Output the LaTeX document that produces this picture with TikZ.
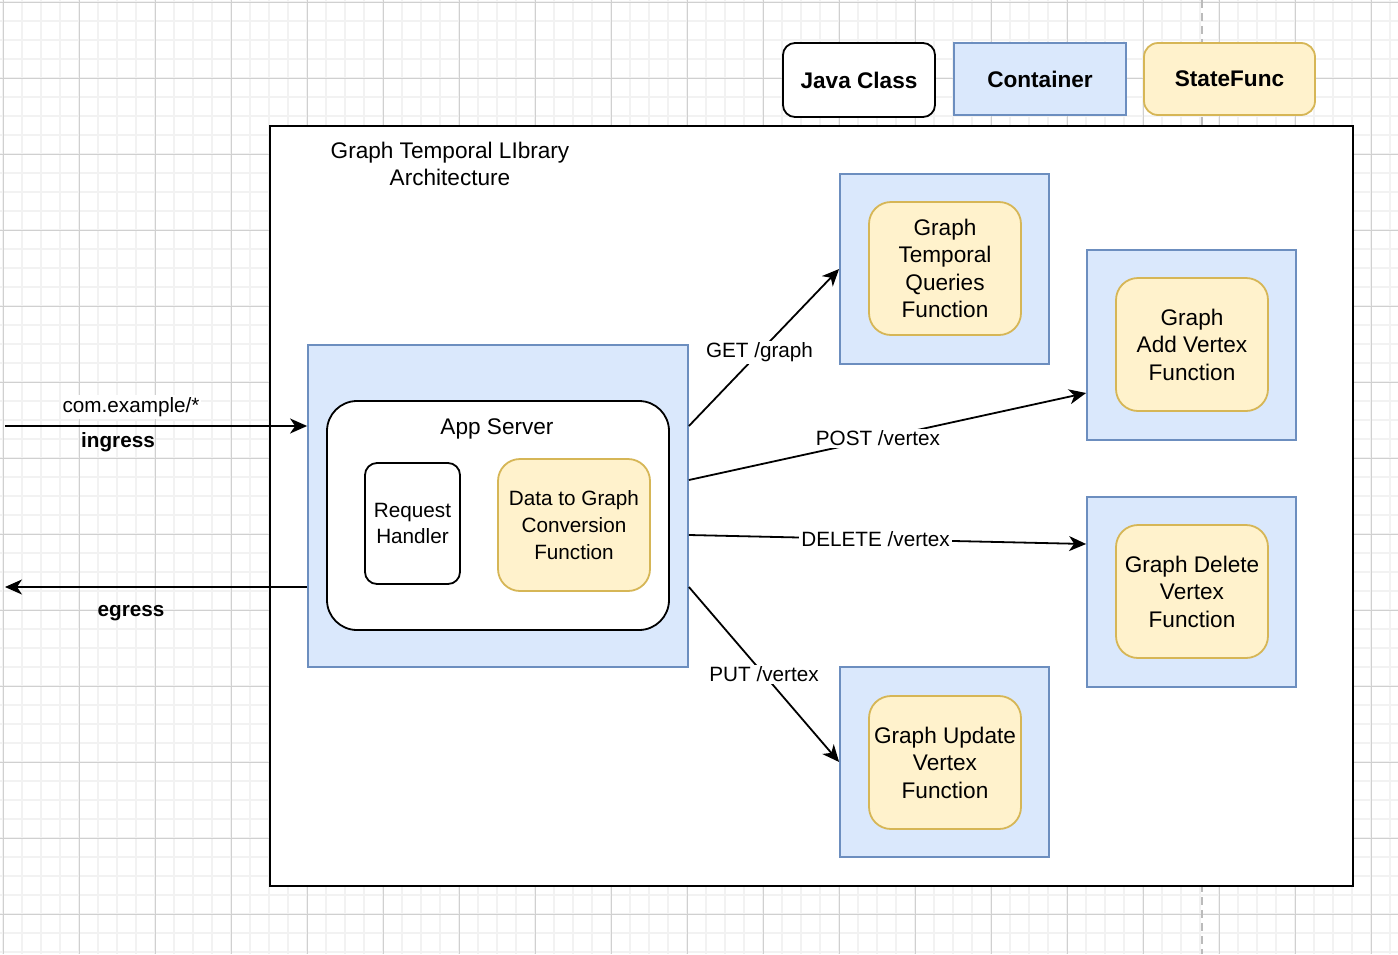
\documentclass[tikz,border=0pt]{standalone}
\usepackage{fontspec}
\setmainfont{Liberation Sans}
\usetikzlibrary{arrows.meta,fit,calc}
\definecolor{cfill}{HTML}{DAE8FC}
\definecolor{cdraw}{HTML}{6C8EBF}
\definecolor{yfill}{HTML}{FFF2CC}
\definecolor{ydraw}{HTML}{D6B656}
\definecolor{gmaj}{HTML}{D0D0D0}
\definecolor{gmin}{HTML}{F2F2F2}
\definecolor{gdash}{HTML}{BBBBBB}
\newcommand\szA{\fontsize{11.3pt}{13.75pt}\selectfont}
\newcommand\szB{\fontsize{10.35pt}{13.4pt}\selectfont}
\begin{document}
\begin{tikzpicture}[x=0.5pt,y=-0.5pt,
  box/.style={inner sep=0pt, line width=0.9pt, align=center},
  container/.style={box, fill=cfill, draw=cdraw},
  sfunc/.style={box, fill=yfill, draw=ydraw, rounded corners=11pt},
  jclass/.style={box, fill=white, draw=black, rounded corners=6pt},
  arr/.style={line width=0.9pt, -{Stealth[length=8.5pt,width=7.5pt,inset=2.5pt]}},
  elabel/.style={fill=white, inner sep=1pt, font=\szB},
  txt/.style={inner sep=0pt, align=center},
]
\useasboundingbox (0,0) rectangle (1398,954);
\fill[white] (0,0) rectangle (1398,954);
\begin{scope}
\clip (0,0) rectangle (1398,954);
\foreach \i in {0,...,74} {\draw[gmin, line width=1pt] ({-16+19*\i},0) -- ({-16+19*\i},954);}
\foreach \i in {0,...,51} {\draw[gmin, line width=1pt] (0,{-17+19*\i}) -- (1398,{-17+19*\i});}
\foreach \i in {0,...,18} {\draw[gmaj, line width=0.5pt] ({3+76*\i},0) -- ({3+76*\i},954);}
\foreach \i in {0,...,12} {\draw[gmaj, line width=0.5pt] (0,{2+76*\i}) -- (1398,{2+76*\i});}
\end{scope}
\draw[gdash, line width=1pt, dash pattern=on 4pt off 2.5pt] (1202,0) -- (1202,954);

% legend
\node[jclass, fit={(783,43)(935,117)}] (legjava) {};
\node[txt, font=\szA\bfseries] at (legjava.center) (legjavat) {Java Class};
\node[container, fit={(954,43)(1126,115)}] (legcont) {};
\node[txt, font=\szA\bfseries] at (legcont.center) (legcontt) {Container};
\node[box, fill=yfill, draw=ydraw, rounded corners=7pt, fit={(1144,43)(1315,115)}] (legsf) {};
\node[txt, font=\szA\bfseries] at (legsf.center) (legsft) {StateFunc};

% frame
\node[box, draw=black, fill=white, line width=1pt, fit={(270,126)(1353,886)}] (frame) {};
\node[txt, font=\szA] (title) at (450,164) {Graph Temporal LIbrary\\Architecture};

% app server
\node[container, fit={(308,345)(688,667)}] (appc) {};
\node[jclass, rounded corners=15pt, fit={(327,401)(669,630)}] (appbox) {};
\node[txt, font=\szA] (applbl) at (497,429) {App Server};
\node[jclass, fit={(365,463)(460,584)}] (req) {};
\node[txt, font=\szB] at (req.center) (reqt) {Request\\Handler};
\node[sfunc, fit={(498,459)(650,591)}] (d2g) {};
\node[txt, font=\szB] at (d2g.center) (d2gt) {Data to Graph\\Conversion\\Function};

% functions
\node[container, fit={(840,174)(1049,364)}] (c1) {};
\node[sfunc, fit={(869,202)(1021,335)}] (f1) {};
\node[txt, font=\szA] at (f1.center) (f1t) {Graph\\Temporal\\Queries\\Function};
\node[container, fit={(1087,250)(1296,440)}] (c2) {};
\node[sfunc, fit={(1116,278)(1268,411)}] (f2) {};
\node[txt, font=\szA] at (f2.center) (f2t) {Graph\\Add Vertex\\Function};
\node[container, fit={(1087,497)(1296,687)}] (c3) {};
\node[sfunc, fit={(1116,525)(1268,658)}] (f3) {};
\node[txt, font=\szA] at (f3.center) (f3t) {Graph Delete\\Vertex\\Function};
\node[container, fit={(840,667)(1049,857)}] (c4) {};
\node[sfunc, fit={(869,696)(1021,829)}] (f4) {};
\node[txt, font=\szA] at (f4.center) (f4t) {Graph Update\\Vertex\\Function};

% ingress / egress
\coordinate (inpt) at (5,426);
\coordinate (outpt) at (5,587);
\draw[arr] (inpt) -- (inpt -| appc.west);
\draw[arr] (outpt -| appc.west) -- (outpt);
\node[elabel] (inlbl) at (131,407) {com.example/*};
\node[txt, font=\szB\bfseries] (ingress) at (118,442) {ingress};
\node[txt, font=\szB\bfseries] (egress) at (131,613) {egress};

% routes
\draw[arr] ([yshift=40pt]appc.east) -- (c1.west) node[elabel, pos=0.47] (lget) {GET /graph};
\draw[arr] ([yshift=13pt]appc.east) -- ([yshift=-24pt]c2.west) node[elabel, pos=0.476] (lpost) {POST /vertex};
\draw[arr] ([yshift=-14.5pt]appc.east) -- ([yshift=24pt]c3.west) node[elabel, pos=0.47] (ldel) {DELETE /vertex};
\draw[arr] ([yshift=-40.5pt]appc.east) -- (c4.west) node[elabel, pos=0.5] (lput) {PUT /vertex};
\end{tikzpicture}
\end{document}
